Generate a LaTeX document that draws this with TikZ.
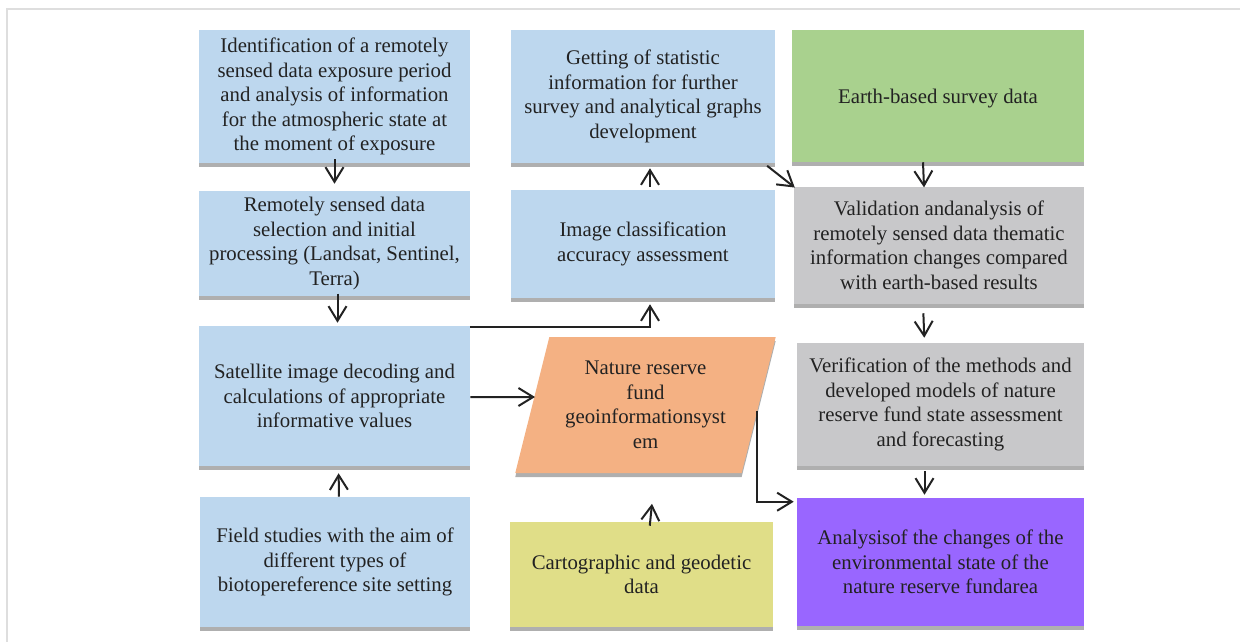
\documentclass[tikz,border=0pt]{standalone}
\usepackage{fontspec}
\setmainfont{Liberation Serif}
\usepackage{xcolor}
\usetikzlibrary{shapes.geometric,arrows.meta,calc,shadows}
\definecolor{boxblue}{RGB}{189,215,238}
\definecolor{earthgreen}{RGB}{169,209,142}
\definecolor{checkgray}{RGB}{200,200,202}
\definecolor{gisorange}{RGB}{244,177,131}
\definecolor{cartoyellow}{RGB}{224,222,136}
\definecolor{resultpurple}{RGB}{153,102,255}
\definecolor{shadowgray}{RGB}{175,175,175}
\definecolor{framegray}{RGB}{222,222,222}
\definecolor{inkgray}{RGB}{34,34,34}

\begin{document}
\begin{tikzpicture}[x=0.75pt, y=-0.75pt,
    stage/.style={rectangle, text=inkgray, align=center, inner sep=0pt,
        font=\fontsize{15.6}{18.4}\selectfont,
        execute at begin node={\rule{0pt}{15.2pt}},
        drop shadow={shadow xshift=0pt, shadow yshift=-3pt, fill=shadowgray, opacity=1}},
    arr/.style={draw=inkgray, line width=1.5pt, -{Straight Barb[length=11pt,width=13.5pt]}}]
    % Page size (pixels of the reference)
    \useasboundingbox (0,0) rectangle (1240,642);

    % Outer frame, only top and left edges visible
    \draw[framegray, line width=1.5pt] (7,642) -- (7,9) -- (1240,9);

    % Left column
    \node[stage, fill=boxblue, minimum width=203.25pt, minimum height=99.75pt] (ident) at (334.5,96.5)
        {Identification of a remotely\\sensed data exposure period\\and analysis of information\\for the atmospheric state at\\the moment of exposure};
    \node[stage, fill=boxblue, minimum width=203.25pt, minimum height=78.75pt] (select) at (334.5,243.5)
        {Remotely sensed data\\selection and initial\\processing (Landsat, Sentinel,\\Terra)};
    \node[stage, fill=boxblue, minimum width=203.25pt, minimum height=105pt] (decode) at (334.5,396)
        {Satellite image decoding and\\calculations of appropriate\\informative values};
    \node[stage, fill=boxblue, minimum width=202.5pt, minimum height=97.5pt] (field) at (335,562)
        {Field studies with the aim of\\different types of\\biotopereference site setting};

    % Middle column
    \node[stage, fill=boxblue, minimum width=198pt, minimum height=99.75pt] (stats) at (643,96.5)
        {Getting of statistic\\information for further\\survey and analytical graphs\\development};
    \node[stage, fill=boxblue, minimum width=198pt, minimum height=81pt] (accuracy) at (643,244)
        {Image classification\\accuracy assessment};
    \node[stage, trapezium, trapezium left angle=72, trapezium right angle=108,
        trapezium stretches=true, fill=gisorange, minimum width=195.75pt, minimum height=102pt] (gis) at (645.5,405)
        {Nature reserve\\fund\\geoinformationsyst\\em};
    \node[stage, fill=cartoyellow, minimum width=197.25pt, minimum height=78.75pt] (carto) at (641.5,574.5)
        {Cartographic and geodetic\\data};

    % Right column
    \node[stage, fill=earthgreen, minimum width=219pt, minimum height=99pt] (earth) at (938,96)
        {Earth-based survey data};
    \node[stage, fill=checkgray, minimum width=217.5pt, minimum height=87.75pt] (valid) at (939,245.5)
        {Validation andanalysis of\\remotely sensed data thematic\\information changes compared\\with earth-based results};
    \node[stage, fill=checkgray, minimum width=215.25pt, minimum height=92.25pt] (verify) at (940.5,404.5)
        {Verification of the methods and\\developed models of nature\\reserve fund state assessment\\and forecasting};
    \node[stage, fill=resultpurple, minimum width=215.25pt, minimum height=96pt] (analysis) at (940.5,562)
        {Analysisof the changes of the\\environmental state of the\\nature reserve fundarea};

    % Connectors
    \draw[arr, shorten <=-3pt, shorten >=5.25pt] (ident) -- (select);
    \draw[arr, shorten <=-2pt, shorten >=2.25pt] ([xshift=2.25pt]select.south) -- ([xshift=2.25pt]decode.north);
    \draw[arr, shorten >=5.25pt] ([xshift=3pt]field.north) -- ([xshift=3pt]decode.south);
    \draw[arr] (decode.east |- 0,397) -- ($(gis.west)+(3,-8)$);
    \draw[arr, shorten <=2.25pt, shorten >=3.75pt] ([xshift=5.25pt]accuracy.north) -- ([xshift=5.25pt]stats.south);
    \draw[arr, shorten >=4.5pt] (decode.north east |- 0,327) -| ([xshift=5.25pt]accuracy.south);
    \draw[arr, shorten <=-3pt, shorten >=16.5pt] ([xshift=6.5pt]carto.north) -- ([xshift=6.5pt,yshift=-6.5pt]gis.south);
    \coordinate (hit) at ($(analysis.north west)+(-3,4)$);
    \draw[arr] ($(gis.east)+(-2,6)$) |- (hit);
    \draw[arr, shorten <=-3pt, shorten >=-1pt] ([xshift=-3.75pt,yshift=-3.75pt]stats.south east) -- (valid.north west);
    \draw[arr, shorten >=-0.5pt] ([xshift=-11.25pt]earth.south) -- ([xshift=-11.25pt]valid.north);
    \draw[arr, shorten <=6.75pt, shorten >=3.75pt] ([xshift=-12pt]valid.south) -- ([xshift=-12pt]verify.north);
    \draw[arr, shorten <=3.75pt, shorten >=2.25pt] ([xshift=-12pt]verify.south) -- ([xshift=-12pt]analysis.north);
\end{tikzpicture}
\end{document}
